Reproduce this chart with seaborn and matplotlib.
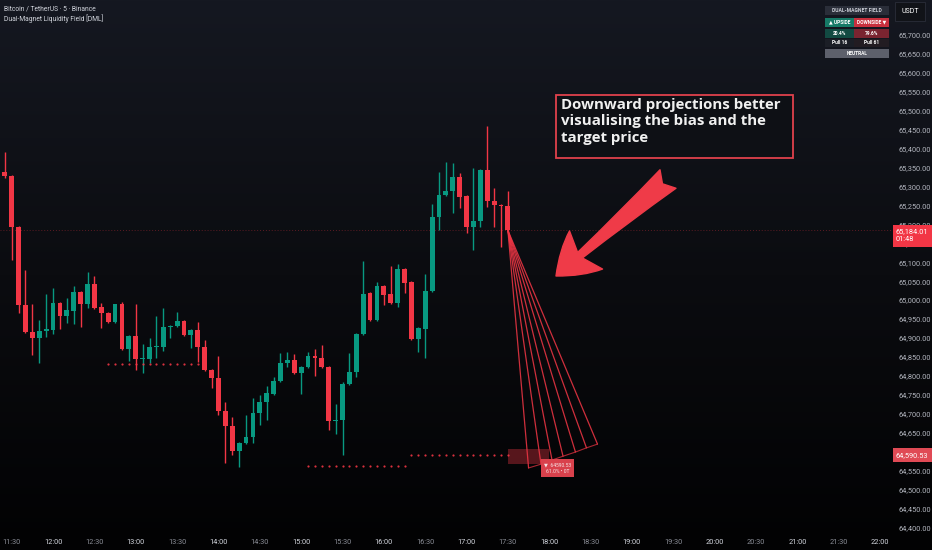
import numpy as np
import pandas as pd
import matplotlib
matplotlib.use("Agg")
import matplotlib.pyplot as plt
import matplotlib.dates as mdates
from matplotlib.colors import LinearSegmentedColormap
from matplotlib.patches import Rectangle
import seaborn as sns

# BTCUSDT 5m candles, 11:25 -> 17:30
opens = [65338, 65327, 65193, 64987, 64916, 64900, 64918, 64921, 64992, 64958,
         64971, 65021, 64989, 65042, 64982, 64966, 64942, 64989, 64871, 64905,
         64844, 64844, 64876, 64876, 64929, 64931, 64945, 64908, 64921, 64876,
         64815, 64794, 64707, 64668, 64602, 64623, 64639, 64702, 64731, 64752,
         64786, 64834, 64842, 64807, 64823, 64852, 64847, 64823, 64681, 64683,
         64778, 64810, 64910, 65018, 64947, 65037, 65016, 64992, 65082, 65047,
         64897, 64923, 65024, 65219, 65277, 65288, 65325, 65274, 65193, 65208,
         65343, 65261, 65251, 65248]
highs = [65390, 65330, 65195, 65079, 64989, 64947, 65016, 65032, 64995, 65005,
         65037, 65024, 65074, 65063, 64992, 64968, 64991, 64995, 64907, 64989,
         64884, 64900, 64958, 64979, 64934, 64968, 64947, 64924, 64942, 64894,
         64818, 64852, 64731, 64691, 64626, 64697, 64741, 64749, 64773, 64797,
         64860, 64863, 64858, 64826, 64863, 64871, 64881, 64826, 64726, 64784,
         64860, 64913, 65103, 65021, 65047, 65040, 65090, 65095, 65085, 65050,
         64928, 65069, 65253, 65338, 65364, 65361, 65335, 65277, 65348, 65346,
         65459, 65296, 65253, 65288]
lows = [65322, 65106, 64966, 64913, 64855, 64834, 64902, 64910, 64923, 64939,
        64937, 64929, 64979, 64977, 64926, 64939, 64939, 64868, 64839, 64815,
        64807, 64834, 64847, 64865, 64900, 64929, 64905, 64873, 64836, 64812,
        64768, 64697, 64570, 64591, 64559, 64620, 64623, 64670, 64683, 64750,
        64784, 64823, 64805, 64752, 64821, 64799, 64821, 64657, 64646, 64591,
        64776, 64797, 64908, 64945, 64945, 64987, 64990, 64982, 65018, 64895,
        64863, 64847, 65021, 65184, 65275, 65230, 65243, 65177, 65132, 65193,
        65245, 65193, 65140, 65179]
closes = [65327, 65193, 64987, 64916, 64900, 64918, 64923, 64992, 64958, 64974,
          65021, 64989, 65042, 64979, 64966, 64942, 64989, 64871, 64905, 64844,
          64847, 64876, 64879, 64929, 64931, 64945, 64908, 64921, 64876, 64815,
          64794, 64707, 64668, 64602, 64623, 64639, 64702, 64731, 64755, 64786,
          64834, 64842, 64807, 64823, 64852, 64847, 64823, 64681, 64683, 64778,
          64810, 64910, 65016, 64947, 65037, 65013, 64992, 65082, 65045, 64897,
          64926, 65024, 65219, 65277, 65288, 65325, 65272, 65193, 65208, 65343,
          65261, 65251, 65248, 65184.01]

day = "2024-06-20 "
first_candle = "11:25"

# liquidity levels (dotted)
level_prices = [64831, 64562, 64590.53]
level_start = ["12:40", "15:05", "16:20"]
level_end = ["13:45", "16:15", "17:30"]

# projection fan endpoints
proj_times = ["17:45", "17:54", "18:02", "18:10", "18:19", "18:27", "18:35"]
proj_prices = [64557, 64567, 64578, 64588, 64599, 64610, 64620]
target_price = 64590.53
zone_low, zone_high = 64567, 64607

last_price = 65184.01
price_ticks = np.arange(64400, 65701, 50)

table_head = "DUAL-MAGNET FIELD"
table_rows = [("▲ UPSIDE", "DOWNSIDE ▼"), ("20.4%", "79.6%"), ("Pull 16", "Pull 61")]
table_status = "NEUTRAL"

UP = "#089981"
DOWN = "#f23645"
TXT = "#d1d4dc"

sns.set_style("dark")
plt.rcParams["font.family"] = ["Roboto", "DejaVu Sans"]

fig = plt.figure(figsize=(9.32, 5.5), dpi=100)

# background gradient
bg = fig.add_axes([0, 0, 1, 1], zorder=-10)
cmap = LinearSegmentedColormap.from_list("tv", ["#151821", "#0b0c10", "#020203"])
bg.imshow(np.linspace(0, 1, 256).reshape(-1, 1), aspect="auto", cmap=cmap,
          extent=[0, 1, 0, 1])
bg.axis("off")

W, H = 932, 550
ax = fig.add_axes([0, 18 / H, 893 / W, 532 / H])
ax.set_facecolor("none")
for s in ax.spines.values():
    s.set_visible(False)
ax.grid(False)

df = pd.DataFrame({"time": pd.date_range(day + first_candle, periods=len(opens), freq="5min"),
                   "open": opens, "high": highs, "low": lows, "close": closes})
df["up"] = df["close"] >= df["open"]
df["color"] = np.where(df["up"], UP, DOWN)
t = mdates.date2num(df["time"])
bw = 5 / 1440 * 0.7

ax.vlines(t, df["low"], df["high"], colors=df["color"], linewidth=1, zorder=3)
body_lo = np.minimum(df["open"], df["close"])
body_h = np.maximum((df["close"] - df["open"]).abs(), 2.5)
ax.bar(t, body_h, bottom=body_lo, width=bw, color=df["color"], linewidth=0, zorder=4)

# current price line
ax.axhline(last_price, color=DOWN, lw=0.7, ls=(0, (1, 2)), alpha=0.35, zorder=1)

# dotted liquidity levels
dots = []
for p, a, b in zip(level_prices, level_start, level_end):
    for ts in pd.date_range(day + a, day + b, freq="5min"):
        dots.append({"x": mdates.date2num(ts), "y": p})
dots = pd.DataFrame(dots)
sns.scatterplot(data=dots, x="x", y="y", ax=ax, color=DOWN, s=2.5,
                linewidth=0, alpha=0.9, zorder=5, legend=False)

# projection fan
x0 = t[-1]
px = [mdates.date2num(pd.Timestamp(day + s)) for s in proj_times]
for xe, ye in zip(px, proj_prices):
    ax.plot([x0, xe], [last_price, ye], color=DOWN, lw=0.9, alpha=0.85, zorder=6)
ax.plot(px, proj_prices, color=DOWN, lw=0.8, alpha=0.7, zorder=6)

# target zone and tag
z0 = mdates.date2num(pd.Timestamp(day + "17:30"))
z1 = mdates.date2num(pd.Timestamp(day + "18:00"))
ax.add_patch(Rectangle((z0, zone_low), z1 - z0, zone_high - zone_low,
                       facecolor=DOWN, alpha=0.35, edgecolor="none", zorder=5))
tag_x = mdates.date2num(pd.Timestamp(day + "18:06"))
ax.text(tag_x, 64557, f"▼  {target_price:.2f}\n61.0% • 0T", ha="center", va="center",
        fontsize=3.6, color="#f5e4e6", linespacing=1.5, zorder=8,
        bbox=dict(boxstyle="square,pad=0.6", facecolor="#d9414c", edgecolor="none"))

# note box + arrow
ax.add_patch(Rectangle((556 / 893, 1 - 158 / 532), 237 / 893, 63 / 532,
                       transform=ax.transAxes, facecolor="#0e1015",
                       edgecolor="#e0414c", lw=1.3, zorder=9))
ax.text(561 / 893, 1 - 98 / 532,
        "Downward projections better\nvisualising the bias and the\ntarget price",
        transform=ax.transAxes, ha="left", va="top", fontsize=10.8,
        fontweight="bold", family=["Open Sans", "DejaVu Sans"], color="#f0f0f0",
        linespacing=1.22, zorder=10)
ax.annotate("", xy=(556 / 893, 1 - 276 / 532), xytext=(668 / 893, 1 - 179 / 532),
            xycoords="axes fraction", textcoords="axes fraction",
            arrowprops=dict(arrowstyle="fancy,head_length=1.3,head_width=1.65,tail_width=0.8",
                            mutation_scale=22, color="#ef3b48", shrinkA=0, shrinkB=0),
            zorder=10)

# axes
ax.set_xlim(mdates.date2num(pd.Timestamp(day + "11:21:30")),
            mdates.date2num(pd.Timestamp(day + "22:09:24")))
ax.set_ylim(64388, 65792)
ax.xaxis.set_major_locator(mdates.MinuteLocator(byminute=[0, 30]))
ax.xaxis.set_major_formatter(mdates.DateFormatter("%H:%M"))
ax.yaxis.tick_right()
ax.set_yticks(price_ticks)
ax.set_yticklabels([f"{v:,.2f}" for v in price_ticks])
ax.tick_params(axis="y", length=0, pad=4, labelsize=5.3, labelcolor="#b2b5be")
ax.tick_params(axis="x", length=0, pad=5, labelsize=5.3)
for lab in ax.get_xticklabels():
    lab.set_color(TXT if lab.get_text().endswith(":00") else "#8a8d96")
ax.set_xlabel("")
ax.set_ylabel("")

tr = ax.get_yaxis_transform()
ax.text(1 + 3 / 893, 65170, f"{last_price:,.2f}\n01:48", transform=tr, ha="left",
        va="center", fontsize=5.3, color="white", linespacing=1.3, zorder=12, clip_on=False,
        bbox=dict(boxstyle="square,pad=0.45", facecolor=DOWN, edgecolor="none"))
ax.text(1 + 3 / 893, target_price, f"{target_price:,.2f}", transform=tr, ha="left",
        va="center", fontsize=5.3, color="white", zorder=12, clip_on=False,
        bbox=dict(boxstyle="square,pad=0.45", facecolor="#e04a55", edgecolor="none"))

# header text
fig.text(4 / W, 1 - 9 / H, "Bitcoin / TetherUS · 5 · Binance", fontsize=4.9,
         color=TXT, va="center")
fig.text(4 / W, 1 - 19 / H, "Dual-Magnet Liquidity Field [DML]", fontsize=4.9,
         color=TXT, va="center")

# USDT tag
fig.text(901 / W, 1 - 11.5 / H, "USDT", fontsize=5, color="white", va="center",
         bbox=dict(boxstyle="square,pad=0.9", facecolor="#111318", edgecolor="#2a2e39", lw=0.6))

# DML table
tax = fig.add_axes([825 / W, 1 - 58 / H, 64 / W, 53 / H])
tax.set_xlim(0, 64)
tax.set_ylim(53, 0)
tax.axis("off")
tax.add_patch(Rectangle((0, 0.5), 64, 9.5, facecolor="#2a2e39", edgecolor="none", lw=0))
tax.text(32, 5.2, table_head, ha="center", va="center", fontsize=3.6,
         color=TXT, fontweight="bold")
row_y = [12.5, 23.5, 33.5]
row_h = [9.5, 9.5, 8.5]
left_c = ["#167a67", "#124a42", "#1b1e26"]
right_c = ["#c8303e", "#7a2430", "#221c22"]
for (l, r), y, h, lc, rc in zip(table_rows, row_y, row_h, left_c, right_c):
    tax.add_patch(Rectangle((0, y), 29, h, facecolor=lc, edgecolor="none", lw=0))
    tax.add_patch(Rectangle((29, y), 35, h, facecolor=rc, edgecolor="none", lw=0))
    tax.text(14.5, y + h / 2, l, ha="center", va="center", fontsize=3.5,
             color="white", fontweight="bold")
    tax.text(46.5, y + h / 2, r, ha="center", va="center", fontsize=3.5,
             color="white", fontweight="bold")
tax.add_patch(Rectangle((0, 43.5), 64, 9.5, facecolor="#5d606b", edgecolor="none", lw=0))
tax.text(32, 48.2, table_status, ha="center", va="center", fontsize=3.5,
         color="white", fontweight="bold")

plt.savefig("out.png", dpi=100)
